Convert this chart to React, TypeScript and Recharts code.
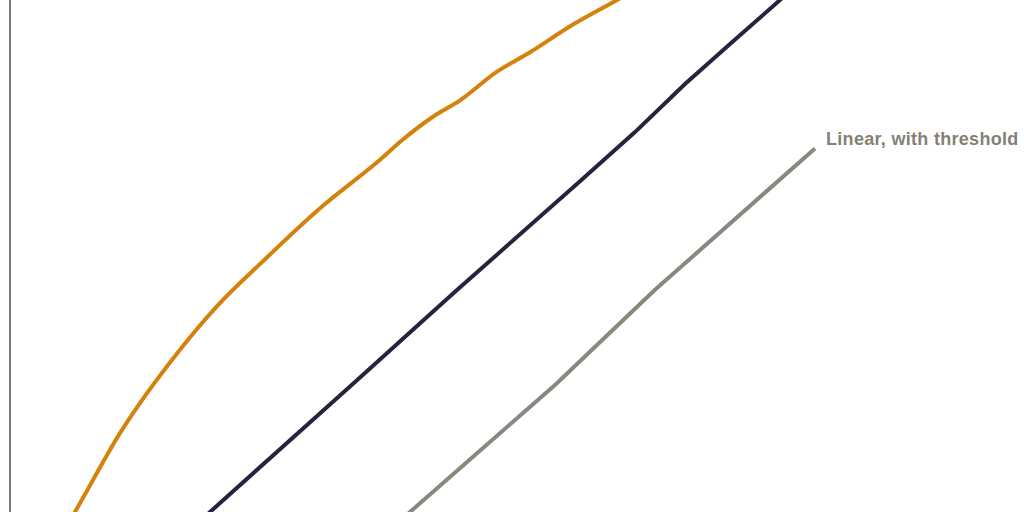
import { LineChart, Line, XAxis, YAxis } from "recharts";

// dose on x, response on y (chart is cropped: lines run past top and bottom)
const supralinear = [
  { dose: 5, response: -2.5 },
  { dose: 6.5, response: 0 },
  { dose: 11, response: 7.7 },
  { dose: 16.8, response: 15.6 },
  { dose: 20.8, response: 20.2 },
  { dose: 25.2, response: 24.4 },
  { dose: 30.8, response: 29.5 },
  { dose: 37, response: 34.4 },
  { dose: 39.2, response: 36.3 },
  { dose: 42.3, response: 38.6 },
  { dose: 45, response: 40.2 },
  { dose: 48.7, response: 43 },
  { dose: 52, response: 44.9 },
  { dose: 56.3, response: 47.6 },
  { dose: 60.7, response: 50 },
  { dose: 63, response: 51.3 },
];

const linear = [
  { dose: 18, response: -1.8 },
  { dose: 20, response: 0 },
  { dose: 34.5, response: 12.7 },
  { dose: 44.5, response: 21.5 },
  { dose: 57, response: 32.3 },
  { dose: 62.5, response: 37.1 },
  { dose: 67.5, response: 41.8 },
  { dose: 72, response: 45.7 },
  { dose: 77, response: 50 },
  { dose: 80, response: 52.6 },
];

const threshold = [
  { dose: 38, response: -1.8 },
  { dose: 40, response: 0 },
  { dose: 54.5, response: 12.4 },
  { dose: 64.5, response: 21.7 },
  { dose: 80.5, response: 35.5 },
];

const thresholdLabel = "Linear, with threshold";

const renderEndLabel = (props: any) => {
  const { x, y, index } = props;
  if (index !== threshold.length - 1) return null;
  return (
    <text
      x={x + 11}
      y={y - 3}
      fill="#857f77"
      fontSize={18}
      fontWeight="bold"
      letterSpacing={0.3}
      fontFamily="Liberation Sans, Arial, sans-serif"
      textAnchor="start"
    >
      {thresholdLabel}
    </text>
  );
};

export default function App() {
  return (
    <div style={{ position: "absolute", left: 0, top: 0, background: "#fff" }}>
      <LineChart
        width={1024}
        height={512}
        margin={{ top: 0, right: 14, bottom: 0, left: 0 }}
      >
        <XAxis
          type="number"
          dataKey="dose"
          domain={[0, 100]}
          allowDataOverflow
          hide
        />
        <YAxis
          type="number"
          dataKey="response"
          domain={[0, 50]}
          allowDataOverflow
          width={10}
          tick={false}
          tickLine={false}
          axisLine={{ stroke: "#7a7a7a", strokeWidth: 2 }}
        />
        <Line
          data={supralinear}
          dataKey="response"
          type="monotone"
          stroke="#d4820c"
          strokeWidth={4}
          dot={false}
          isAnimationActive={false}
        />
        <Line
          data={linear}
          dataKey="response"
          type="linear"
          stroke="#26233d"
          strokeWidth={4}
          dot={false}
          isAnimationActive={false}
        />
        <Line
          data={threshold}
          dataKey="response"
          type="linear"
          stroke="#8b867e"
          strokeWidth={4}
          dot={false}
          label={renderEndLabel}
          isAnimationActive={false}
        />
      </LineChart>
    </div>
  );
}
